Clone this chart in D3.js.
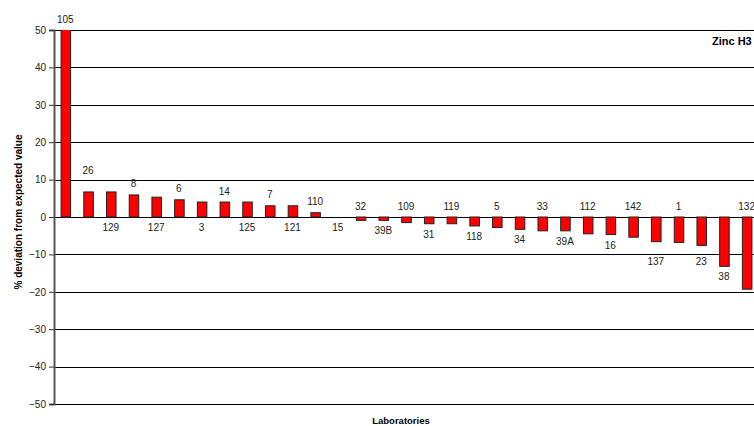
<!DOCTYPE html>
<html><head><meta charset="utf-8">
<script src="https://cdnjs.cloudflare.com/ajax/libs/d3/7.8.5/d3.min.js"></script>
<style>body{margin:0;background:#fff;overflow:hidden}svg{display:block;font-family:"Liberation Sans",Arial,sans-serif}</style>
</head><body><svg id="c" width="754" height="426"></svg>
<script>
const labs = ["105","26","129","8","127","6","3","14","125","7","121","110","15","32","39B","109","31","119","118","5","34","33","39A","112","16","142","137","1","23","38","132"];
const devs = [62,6.7,6.7,5.9,5.3,4.6,4.0,4.0,4.0,3.0,3.0,1.15,0,-0.9,-0.9,-1.5,-1.8,-1.8,-2.4,-2.8,-3.3,-3.7,-3.7,-4.5,-4.7,-5.4,-6.6,-6.8,-7.6,-13.2,-19.3];
const yTicks = [50,40,30,20,10,0,-10,-20,-30,-40,-50];
const chartTitle = "Zinc H3";
const xTitle = "Laboratories";
const yTitle = "% deviation from expected value";

(function(){
const svg = d3.select("#c");
const pL = 54, pR = 758, pT = 30, pB = 404;
const x = d3.scaleBand().domain(labs).range([pL, pR]).paddingInner(0.58).paddingOuter(0.29);
const y = d3.scaleLinear().domain([-50, 50]).range([pB, pT]);

// gridlines
svg.append("g").selectAll("line").data(yTicks).join("line")
  .attr("x1", pL).attr("x2", 754)
  .attr("y1", d => Math.round(y(d)) + 0.5).attr("y2", d => Math.round(y(d)) + 0.5)
  .attr("stroke", "#000").attr("stroke-width", 1);

// clip for bars
svg.append("clipPath").attr("id", "pc").append("rect")
  .attr("x", pL).attr("y", pT).attr("width", 754 - pL).attr("height", pB - pT);

const data = labs.map((l, i) => ({l, v: devs[i], i}));
svg.append("g").attr("clip-path", "url(#pc)").selectAll("rect").data(data).join("rect")
  .attr("x", d => x(d.l) + 0.5)
  .attr("y", d => y(Math.max(0, d.v)))
  .attr("width", x.bandwidth())
  .attr("height", d => Math.abs(y(d.v) - y(0)))
  .attr("fill", "#ff0000").attr("stroke", "#222").attr("stroke-width", 1)
  .style("display", d => d.v === 0 ? "none" : null);

// y axis
const ax = svg.append("g").attr("transform", `translate(${pL},0)`)
  .call(d3.axisLeft(y).tickValues(yTicks).tickSize(5).tickPadding(3).tickFormat(d3.format("d")));
ax.select(".domain").attr("stroke", "#555").attr("stroke-width", 2);
ax.selectAll(".tick line").attr("stroke", "#333");
ax.selectAll(".tick text").attr("font-size", "10px").attr("fill", "#222")
  .attr("font-family", "'Liberation Sans',Arial,sans-serif");

// data labels: mostly alternating above/below, as placed in the original
const n = labs.length;
const above = i => i === 0 || i === n - 1 || (i % 2 === 1 && i !== n - 2);
const extra = {"26": 10, "137": 9, "23": 6};
svg.append("g").selectAll("text").data(data).join("text")
  .attr("x", d => x(d.l) + x.bandwidth() / 2)
  .attr("y", d => {
    const vTop = Math.min(y(Math.min(d.v, 50)), y(0));
    const vBot = Math.max(y(d.v), y(0));
    const e = extra[d.l] || 0;
    return above(d.i) ? vTop - 11 - e : vBot + 10.5 + e;
  })
  .attr("dy", "0.35em")
  .attr("text-anchor", "middle").attr("font-size", "10px").attr("fill", "#222")
  .text(d => d.l);

// titles
svg.append("text").attr("x", 712).attr("y", 45).attr("font-size", "11px").attr("font-weight", "bold").text(chartTitle);
svg.append("text").attr("x", 401).attr("y", 424).attr("text-anchor", "middle").attr("font-size", "9.5px").attr("font-weight", "bold").text(xTitle);
svg.append("text").attr("transform", "translate(22,212) rotate(-90)").attr("text-anchor", "middle")
  .attr("font-size", "10px").attr("font-weight", "bold").text(yTitle);
})();
</script></body></html>
